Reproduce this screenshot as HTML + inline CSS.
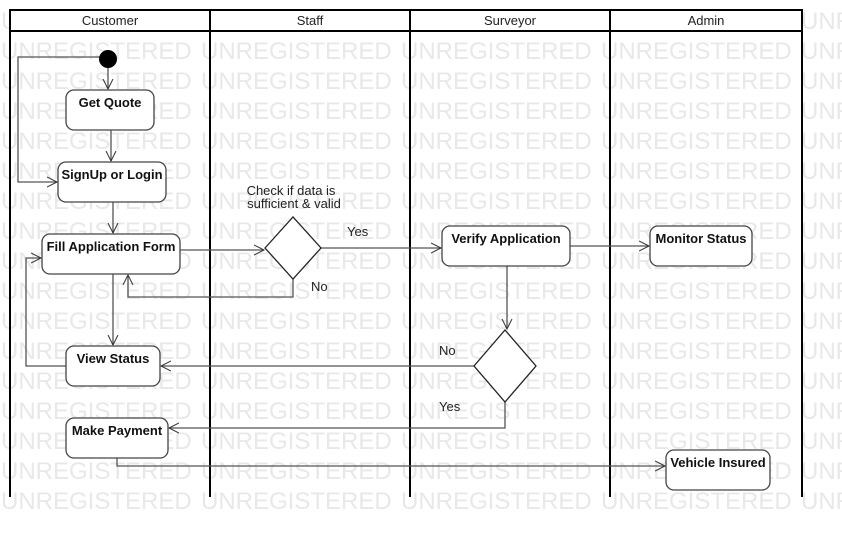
<!DOCTYPE html>
<html><head><meta charset="utf-8"><style>
html,body{margin:0;padding:0;background:#fff;width:842px;height:538px;overflow:hidden}
svg{display:block}
.wm{font-family:"Liberation Sans",sans-serif;font-size:24px;fill:#e8e8e8}
.h{font-family:"Liberation Sans",sans-serif;font-size:13px;fill:#222}
.b{font-family:"Liberation Sans",sans-serif;font-size:13px;font-weight:bold;fill:#111}
.l{font-family:"Liberation Sans",sans-serif;font-size:13px;fill:#222}
</style></head><body>
<svg width="842" height="538" viewBox="0 0 842 538" xmlns="http://www.w3.org/2000/svg">
<defs>
<marker id="a" markerWidth="12" markerHeight="12" refX="10" refY="6" orient="auto" markerUnits="userSpaceOnUse">
<path d="M0,1 L10,6 L0,11" fill="none" stroke="#333" stroke-width="1"/></marker>
</defs>
<g class="wm">
<text y="29"><tspan x="1">UNREGISTERED</tspan><tspan x="201">UNREGISTERED</tspan><tspan x="401">UNREGISTERED</tspan><tspan x="601">UNREGISTERED</tspan><tspan x="801">UNREGISTERED</tspan></text>
<text y="59"><tspan x="1">UNREGISTERED</tspan><tspan x="201">UNREGISTERED</tspan><tspan x="401">UNREGISTERED</tspan><tspan x="601">UNREGISTERED</tspan><tspan x="801">UNREGISTERED</tspan></text>
<text y="89"><tspan x="1">UNREGISTERED</tspan><tspan x="201">UNREGISTERED</tspan><tspan x="401">UNREGISTERED</tspan><tspan x="601">UNREGISTERED</tspan><tspan x="801">UNREGISTERED</tspan></text>
<text y="119"><tspan x="1">UNREGISTERED</tspan><tspan x="201">UNREGISTERED</tspan><tspan x="401">UNREGISTERED</tspan><tspan x="601">UNREGISTERED</tspan><tspan x="801">UNREGISTERED</tspan></text>
<text y="149"><tspan x="1">UNREGISTERED</tspan><tspan x="201">UNREGISTERED</tspan><tspan x="401">UNREGISTERED</tspan><tspan x="601">UNREGISTERED</tspan><tspan x="801">UNREGISTERED</tspan></text>
<text y="179"><tspan x="1">UNREGISTERED</tspan><tspan x="201">UNREGISTERED</tspan><tspan x="401">UNREGISTERED</tspan><tspan x="601">UNREGISTERED</tspan><tspan x="801">UNREGISTERED</tspan></text>
<text y="209"><tspan x="1">UNREGISTERED</tspan><tspan x="201">UNREGISTERED</tspan><tspan x="401">UNREGISTERED</tspan><tspan x="601">UNREGISTERED</tspan><tspan x="801">UNREGISTERED</tspan></text>
<text y="239"><tspan x="1">UNREGISTERED</tspan><tspan x="201">UNREGISTERED</tspan><tspan x="401">UNREGISTERED</tspan><tspan x="601">UNREGISTERED</tspan><tspan x="801">UNREGISTERED</tspan></text>
<text y="269"><tspan x="1">UNREGISTERED</tspan><tspan x="201">UNREGISTERED</tspan><tspan x="401">UNREGISTERED</tspan><tspan x="601">UNREGISTERED</tspan><tspan x="801">UNREGISTERED</tspan></text>
<text y="299"><tspan x="1">UNREGISTERED</tspan><tspan x="201">UNREGISTERED</tspan><tspan x="401">UNREGISTERED</tspan><tspan x="601">UNREGISTERED</tspan><tspan x="801">UNREGISTERED</tspan></text>
<text y="329"><tspan x="1">UNREGISTERED</tspan><tspan x="201">UNREGISTERED</tspan><tspan x="401">UNREGISTERED</tspan><tspan x="601">UNREGISTERED</tspan><tspan x="801">UNREGISTERED</tspan></text>
<text y="359"><tspan x="1">UNREGISTERED</tspan><tspan x="201">UNREGISTERED</tspan><tspan x="401">UNREGISTERED</tspan><tspan x="601">UNREGISTERED</tspan><tspan x="801">UNREGISTERED</tspan></text>
<text y="389"><tspan x="1">UNREGISTERED</tspan><tspan x="201">UNREGISTERED</tspan><tspan x="401">UNREGISTERED</tspan><tspan x="601">UNREGISTERED</tspan><tspan x="801">UNREGISTERED</tspan></text>
<text y="419"><tspan x="1">UNREGISTERED</tspan><tspan x="201">UNREGISTERED</tspan><tspan x="401">UNREGISTERED</tspan><tspan x="601">UNREGISTERED</tspan><tspan x="801">UNREGISTERED</tspan></text>
<text y="449"><tspan x="1">UNREGISTERED</tspan><tspan x="201">UNREGISTERED</tspan><tspan x="401">UNREGISTERED</tspan><tspan x="601">UNREGISTERED</tspan><tspan x="801">UNREGISTERED</tspan></text>
<text y="479"><tspan x="1">UNREGISTERED</tspan><tspan x="201">UNREGISTERED</tspan><tspan x="401">UNREGISTERED</tspan><tspan x="601">UNREGISTERED</tspan><tspan x="801">UNREGISTERED</tspan></text>
<text y="509"><tspan x="1">UNREGISTERED</tspan><tspan x="201">UNREGISTERED</tspan><tspan x="401">UNREGISTERED</tspan><tspan x="601">UNREGISTERED</tspan><tspan x="801">UNREGISTERED</tspan></text>
</g>
<!-- lanes -->
<rect x="10" y="10" width="792" height="21" fill="#fff" stroke="#000" stroke-width="2"/>
<g stroke="#000" stroke-width="2">
<line x1="10" y1="10" x2="10" y2="497"/><line x1="210" y1="10" x2="210" y2="497"/>
<line x1="410" y1="10" x2="410" y2="497"/><line x1="610" y1="10" x2="610" y2="497"/>
<line x1="802" y1="10" x2="802" y2="497"/>
</g>
<text class="h" x="110" y="25" text-anchor="middle">Customer</text>
<text class="h" x="310" y="25" text-anchor="middle">Staff</text>
<text class="h" x="510" y="25" text-anchor="middle">Surveyor</text>
<text class="h" x="706" y="25" text-anchor="middle">Admin</text>
<!-- connectors -->
<g fill="none" stroke="#555" stroke-width="1.3">
<path d="M100,57 H18 V182 H57" marker-end="url(#a)"/>
<path d="M108,68 V89" marker-end="url(#a)"/>
<path d="M111,130 V161" marker-end="url(#a)"/>
<path d="M113,202 V233" marker-end="url(#a)"/>
<path d="M180,250 H264" marker-end="url(#a)"/>
<path d="M293,279 V297 H128 V275" marker-end="url(#a)"/>
<path d="M321,248 H441" marker-end="url(#a)"/>
<path d="M570,246 H649" marker-end="url(#a)"/>
<path d="M507,266 V329" marker-end="url(#a)"/>
<path d="M474,366 H161" marker-end="url(#a)"/>
<path d="M505,402 V428 H169" marker-end="url(#a)"/>
<path d="M113,274 V345" marker-end="url(#a)"/>
<path d="M66,366 H26 V258 H41" marker-end="url(#a)"/>
<path d="M117,458 V466 H665" marker-end="url(#a)"/>
</g>
<circle cx="108" cy="59" r="9" fill="#000"/>
<!-- nodes -->
<g fill="#fff" stroke="#444" stroke-width="1.3">
<rect x="66" y="90" width="88" height="40" rx="8"/>
<rect x="58" y="162" width="108" height="40" rx="8"/>
<rect x="42" y="234" width="138" height="40" rx="8"/>
<rect x="442" y="226" width="128" height="40" rx="8"/>
<rect x="650" y="226" width="102" height="40" rx="8"/>
<rect x="66" y="346" width="94" height="40" rx="8"/>
<rect x="66" y="418" width="102" height="40" rx="8"/>
<rect x="666" y="450" width="104" height="40" rx="8"/>
<polygon points="265,248 293,217 321,248 293,279" stroke="#222"/>
<polygon points="474,366 505,330 536,366 505,402" stroke="#222"/>
</g>
<text class="b" x="110" y="107" text-anchor="middle">Get Quote</text>
<text class="b" x="112" y="179" text-anchor="middle">SignUp or Login</text>
<text class="b" x="111" y="251" text-anchor="middle">Fill Application Form</text>
<text class="b" x="506" y="243" text-anchor="middle">Verify Application</text>
<text class="b" x="701" y="243" text-anchor="middle">Monitor Status</text>
<text class="b" x="113" y="363" text-anchor="middle">View Status</text>
<text class="b" x="117" y="435" text-anchor="middle">Make Payment</text>
<text class="b" x="718" y="467" text-anchor="middle">Vehicle Insured</text>
<text class="l" x="291" y="195" text-anchor="middle">Check if data is</text>
<text class="l" x="294" y="208" text-anchor="middle">sufficient &amp; valid</text>
<text class="l" x="347" y="236">Yes</text>
<text class="l" x="311" y="291">No</text>
<text class="l" x="439" y="355">No</text>
<text class="l" x="439" y="411">Yes</text>
</svg>
</body></html>
